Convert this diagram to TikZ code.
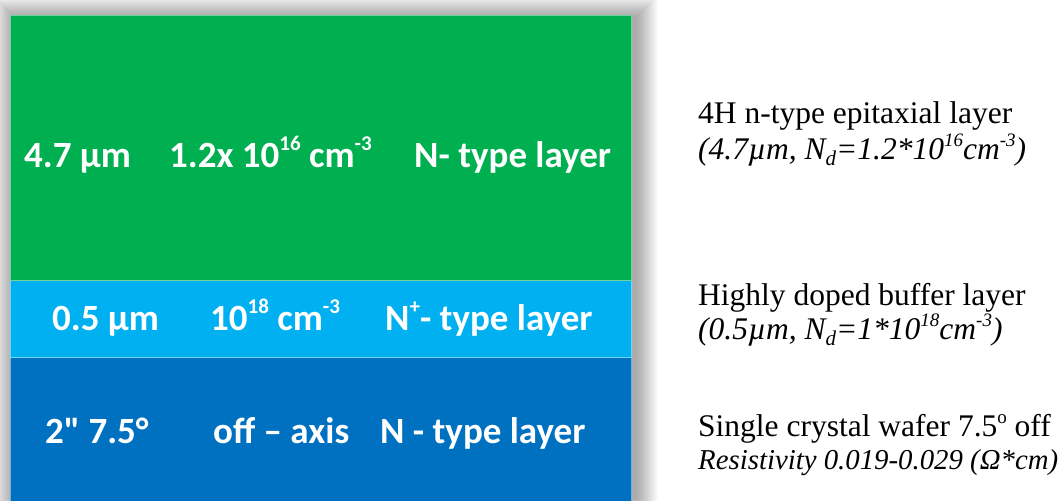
\documentclass[tikz,border=0pt]{standalone}
\usepackage{fontspec}
\setmainfont{Liberation Serif}
\newfontfamily\calib{Carlito}
\definecolor{epigreen}{HTML}{00AF50}
\definecolor{bufblue}{HTML}{00B0F0}
\definecolor{subblue}{HTML}{0070C0}
\newcommand\supA[1]{\raisebox{.45em}{\fontsize{21}{21}\selectfont #1}}
\newcommand\supB[1]{\raisebox{.40em}{\fontsize{19}{19}\selectfont #1}}
\newcommand\subB[1]{\raisebox{-.20em}{\fontsize{21}{21}\selectfont #1}}
\begin{document}
\begin{tikzpicture}[x=1pt,y=-1pt,
  layer/.style={draw=#1!55!white, line width=1pt, fill=#1, inner sep=0pt, anchor=north west},
  ltext/.style={anchor=base west, inner sep=0pt, text=white, font=\calib\bfseries\fontsize{37}{37}\selectfont},
  rtext/.style={anchor=base west, inner sep=0pt, text=black, font=\fontsize{31.5}{31.5}\selectfont}]
\useasboundingbox (0,0) rectangle (1064,500);
\fill[white] (0,0) rectangle (1064,500);
% soft shadow
\foreach \r in {1,...,22}{
  \fill[black, opacity=0.014] (14-\r,17-\r) rectangle (636+\r,520);
}
% layers
\node[layer=subblue, minimum width=621pt, minimum height=170pt] (sub) at (10,357) {};
\node[layer=bufblue, minimum width=621pt, minimum height=77pt] (buf) at (10,280) {};
\node[layer=epigreen, minimum width=621pt, minimum height=265pt] (epi) at (10,15) {};
% layer texts
\node[ltext] (t1a) at (24,167) {4.7 µm};
\node[ltext] (t1b) at (169,167) {1.2x 10\supA{16} cm\supA{-3}};
\node[ltext] (t1c) at (414,167) {N- type layer};
\node[ltext] (t2a) at (52,330) {0.5 µm};
\node[ltext] (t2b) at (210,330) {10\supA{18} cm\supA{-3}};
\node[ltext] (t2c) at (385,330) {N\supA{+}- type layer};
\node[ltext] (t3a) at (45,443) {2" 7.5°};
\node[ltext] (t3b) at (213,443) {off – axis};
\node[ltext] (t3c) at (380,443) {N - type layer};
% descriptions
\node[rtext] (d1a) at (698,124) {4H n-type epitaxial layer};
\node[rtext] (d1b) at (698,159) {\itshape (4.7µm, N\subB{d}=1.2*10\supB{16}cm\supB{-3})};
\node[rtext] (d2a) at (698,305) {Highly doped buffer layer};
\node[rtext] (d2b) at (698,339) {\itshape (0.5µm, N\subB{d}=1*10\supB{18}cm\supB{-3})};
\node[rtext] (d3a) at (698,436) {Single crystal wafer 7.5\supB{o} off};
\node[rtext, font=\fontsize{28.8}{28.8}\selectfont] (d3b) at (698,469) {\itshape Resistivity 0.019-0.029 (Ω*cm)};
\end{tikzpicture}
\end{document}
